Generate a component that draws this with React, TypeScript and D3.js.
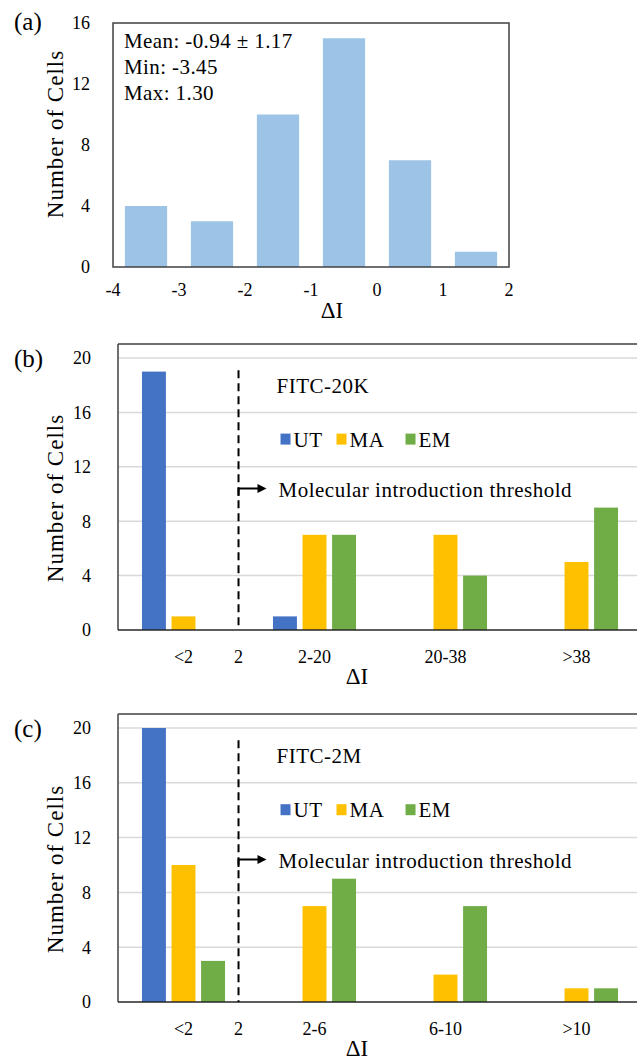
import React from "react";
import * as d3 from "d3";

// (a) histogram of ΔI
const histEdges = [-4, -3, -2, -1, 0, 1, 2];
const histCounts = [4, 3, 10, 15, 7, 1];
const histYTicks = [0, 4, 8, 12, 16];
const histXTicks = [-4, -3, -2, -1, 0, 1, 2];
const histStats = ["Mean: -0.94 ± 1.17", "Min: -3.45", "Max: 1.30"];

// shared for (b) and (c)
const seriesNames = ["UT", "MA", "EM"];
const seriesColors = ["#4472C4", "#FFC000", "#70AD47"];
const groupYTicks = [0, 4, 8, 12, 16, 20];

// (b) FITC-20K
const cats20K = ["<2", "2-20", "20-38", ">38"];
const ut20K = [19, 1, 0, 0];
const ma20K = [1, 7, 7, 5];
const em20K = [0, 7, 4, 9];

// (c) FITC-2M
const cats2M = ["<2", "2-6", "6-10", ">10"];
const ut2M = [20, 0, 0, 0];
const ma2M = [10, 7, 2, 1];
const em2M = [3, 9, 7, 1];

const FONT = "Liberation Serif, Times New Roman, serif";

function Histogram() {
  const left = 113, right = 509, top = 23, bottom = 267;
  const x = d3.scaleLinear().domain([-4, 2]).range([left, right]);
  const y = d3.scaleLinear().domain([0, 16]).range([bottom, top]);
  const inset = 0.18;

  return (
    <g>
      <text x={14} y={30} fontSize={25} fontFamily={FONT}>(a)</text>
      {histCounts.map((c, i) => {
        const x0 = x(histEdges[i]), x1 = x(histEdges[i + 1]);
        const w = x1 - x0;
        return (
          <rect key={i} x={x0 + w * inset} width={w * (1 - 2 * inset)}
            y={y(c)} height={y(0) - y(c)} fill="#9DC3E6" />
        );
      })}
      <rect x={left} y={top} width={right - left} height={bottom - top}
        fill="none" stroke="#404040" strokeWidth={1.5} />
      {histYTicks.map((t) => (
        <text key={t} x={90} y={y(t)} dy="0.35em" textAnchor="end"
          fontSize={18} fontFamily={FONT}>{t}</text>
      ))}
      {histXTicks.map((t) => (
        <text key={t} x={x(t)} y={bottom + 29} textAnchor="middle"
          fontSize={18} fontFamily={FONT}>{t}</text>
      ))}
      {histStats.map((s, i) => (
        <text key={s} x={124} y={48 + i * 26} fontSize={21} letterSpacing={0.4}
          fontFamily={FONT}>{s}</text>
      ))}
      <text x={332} y={318} textAnchor="middle" fontSize={23} fontFamily={FONT}>ΔI</text>
      <text transform={`translate(63,134) rotate(-90)`} textAnchor="middle"
        fontSize={23} letterSpacing={1} fontFamily={FONT}>Number of Cells</text>
    </g>
  );
}

type GroupProps = {
  label: string;
  title: string;
  cats: string[];
  series: number[][];
  top: number;    // chart-area top border
  y20: number;    // pixel of value 20
  axisY: number;  // pixel of value 0
};

function GroupedPanel({ label, title, cats, series, top, y20, axisY }: GroupProps) {
  const left = 118, rightEdge = 642;
  const x0 = d3.scaleBand<string>().domain(cats).range([left, rightEdge])
    .paddingInner(0.366).paddingOuter(0.183);
  const x1 = d3.scaleBand<string>().domain(seriesNames).range([0, x0.bandwidth()])
    .paddingInner(0.19);
  const y = d3.scaleLinear().domain([0, 20]).range([axisY, y20]);

  const step = x0.step();
  const firstCenter = (x0(cats[0]) ?? 0) + x0.bandwidth() / 2;
  const thrX = firstCenter + 0.42 * step;
  const legendOffsets = [0, 56, 125];
  const arrowY = y(10.4);

  return (
    <g>
      <text x={14} y={top + 23} fontSize={25} fontFamily={FONT}>{label}</text>
      {groupYTicks.filter((t) => t > 0).map((t) => (
        <line key={t} x1={left} x2={637} y1={y(t)} y2={y(t)}
          stroke="#D9D9D9" strokeWidth={1.5} />
      ))}
      {cats.map((c, ci) => (
        <g key={c}>
          {series.map((vals, si) => {
            const v = vals[ci];
            if (!v) return null;
            return (
              <rect key={si} x={(x0(c) ?? 0) + (x1(seriesNames[si]) ?? 0)}
                width={x1.bandwidth()} y={y(v)} height={y(0) - y(v)}
                fill={seriesColors[si]} />
            );
          })}
        </g>
      ))}
      <line x1={left} x2={637} y1={top} y2={top} stroke="#404040" strokeWidth={1.5} />
      <line x1={left} x2={left} y1={top} y2={axisY} stroke="#404040" strokeWidth={1.5} />
      <line x1={left} x2={637} y1={axisY} y2={axisY} stroke="#262626" strokeWidth={1.5} />

      {/* threshold */}
      <line x1={thrX} x2={thrX} y1={y(19.1)} y2={axisY} stroke="#000"
        strokeWidth={2} strokeDasharray="8,5" />
      <path d={`M${thrX},${y(9.85)} V${arrowY} H${thrX + 20}`} fill="none"
        stroke="#000" strokeWidth={2} />
      <path d={`M${thrX + 19},${arrowY - 4.5} L${thrX + 28},${arrowY} L${thrX + 19},${arrowY + 4.5} Z`}
        fill="#000" />
      <text x={thrX + 40} y={y(10.4) + 8} fontSize={21} letterSpacing={0.5}
        fontFamily={FONT}>Molecular introduction threshold</text>
      <text x={thrX + 38} y={y(17.5) + 1} fontSize={21} letterSpacing={0.5}
        fontFamily={FONT}>{title}</text>

      {seriesNames.map((s, i) => (
        <g key={s} transform={`translate(${thrX + 42 + legendOffsets[i]},${y(14)})`}>
          <rect x={0} y={-6} width={10} height={11} fill={seriesColors[i]} />
          <text x={13} y={7} fontSize={21} letterSpacing={0.5} fontFamily={FONT}>{s}</text>
        </g>
      ))}

      {groupYTicks.map((t) => (
        <text key={t} x={91} y={y(t)} dy="0.35em" textAnchor="end"
          fontSize={18} fontFamily={FONT}>{t}</text>
      ))}
      {cats.map((c) => (
        <text key={c} x={(x0(c) ?? 0) + x0.bandwidth() / 2} y={axisY + 33}
          textAnchor="middle" fontSize={18} fontFamily={FONT}>{c}</text>
      ))}
      <text x={thrX} y={axisY + 33} textAnchor="middle" fontSize={18}
        fontFamily={FONT}>2</text>
      <text x={357} y={axisY + 54} textAnchor="middle" fontSize={23}
        fontFamily={FONT}>ΔI</text>
      <text transform={`translate(63,${(y20 + axisY) / 2 + 4}) rotate(-90)`}
        textAnchor="middle" fontSize={23} letterSpacing={1}
        fontFamily={FONT}>Number of Cells</text>
    </g>
  );
}

export default function App() {
  return (
    <svg width={637} height={1061}
      style={{ position: "absolute", left: 0, top: 0, background: "#fff" }}>
      <Histogram />
      <GroupedPanel label="(b)" title="FITC-20K" cats={cats20K}
        series={[ut20K, ma20K, em20K]} top={344} y20={358} axisY={630} />
      <GroupedPanel label="(c)" title="FITC-2M" cats={cats2M}
        series={[ut2M, ma2M, em2M]} top={714} y20={728} axisY={1002} />
    </svg>
  );
}
